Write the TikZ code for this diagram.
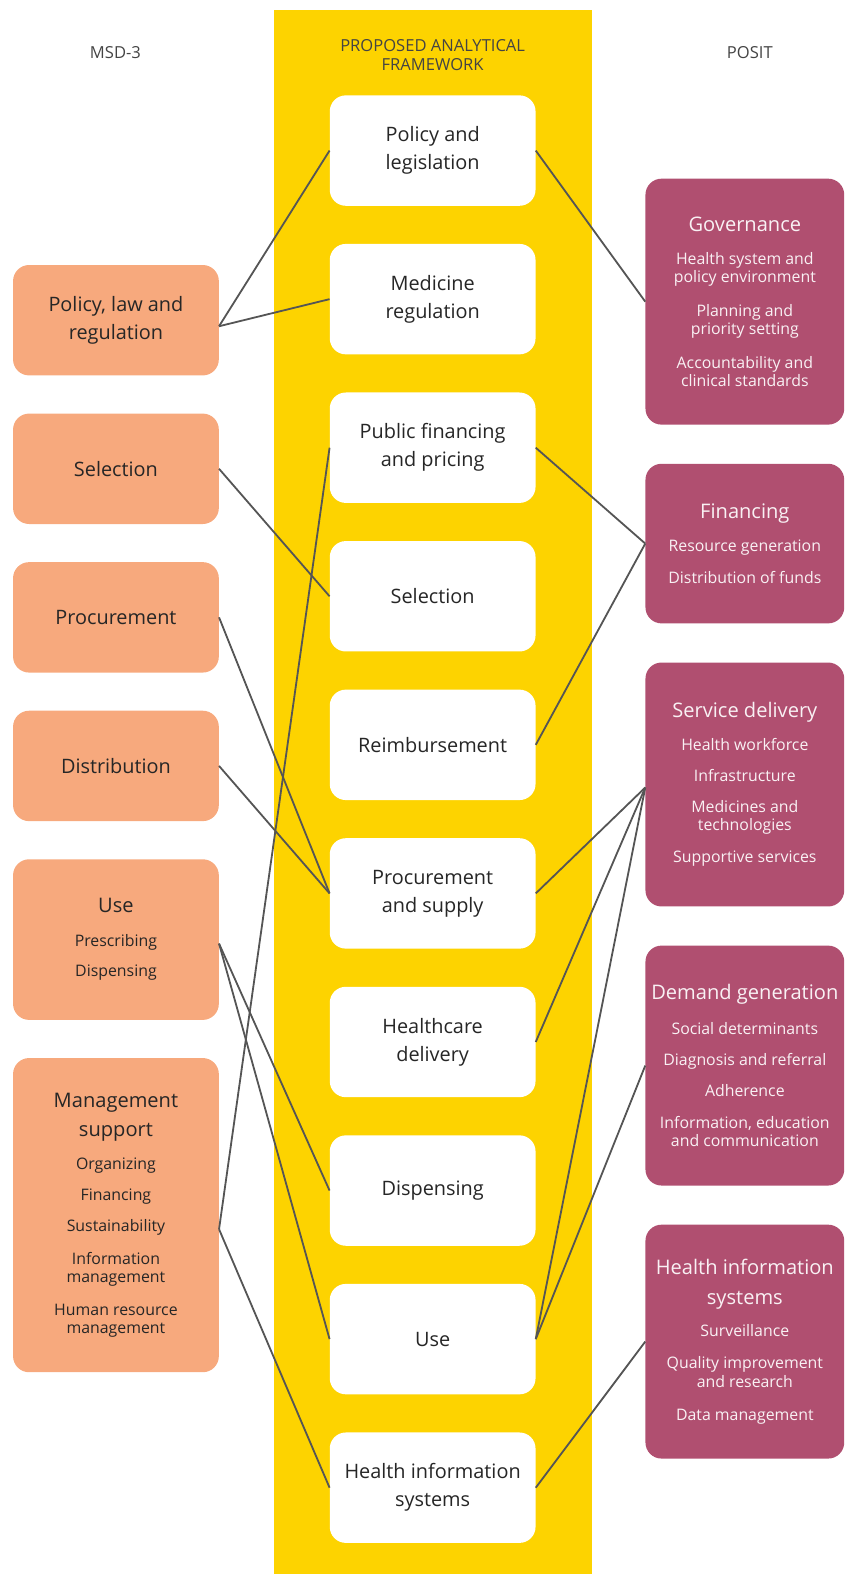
\documentclass[tikz,border=0pt]{standalone}
\usepackage{fontspec}
\setmainfont{Open Sans}
\definecolor{bandyellow}{HTML}{FDD300}
\definecolor{msdorange}{HTML}{F7A97D}
\definecolor{positred}{HTML}{B04F70}
\definecolor{linkgray}{HTML}{555555}
\definecolor{headgray}{HTML}{444444}
\newcommand\ttl[1]{{\fontsize{20}{28}\selectfont #1}}

\begin{document}
\begin{tikzpicture}[x=1pt,y=-1pt,
  frame/.style={fill=white, rounded corners=16pt, minimum width=205pt, minimum height=110pt,
    inner sep=0pt, align=center, font=\fontsize{19.8}{28}\selectfont, text=black!85},
  msd/.style={fill=msdorange, rounded corners=16pt, minimum width=205pt, inner sep=0pt,
    align=center, font=\fontsize{15.8}{18}\selectfont, text=black!85},
  posit/.style={fill=positred, rounded corners=16pt, minimum width=198pt, inner sep=0pt,
    align=center, font=\fontsize{15.8}{18}\selectfont, text=white!92!positred},
  big/.style={font=\fontsize{19.8}{28}\selectfont},
  head/.style={font=\fontsize{16.5}{18.5}\selectfont, text=headgray, align=center},
  link/.style={draw=linkgray, line width=1.8pt}]
\useasboundingbox (0,0) rectangle (842,1568);

% yellow middle column
\fill[bandyellow] (273,10) rectangle (590,1568);

% column headings
\node[head] (hmsd) at (115,52) {MSD-3};
\node[head] (hfw) at (431,55) {PROPOSED ANALYTICAL\\FRAMEWORK};
\node[head] (hposit) at (747,52) {POSIT};

% framework boxes
\foreach \i/\txt in {1/{Policy and\\legislation}, 2/{Medicine\\regulation},
    3/{Public financing\\and pricing}, 4/{Selection}, 5/{Reimbursement},
    6/{Procurement\\and supply}, 7/{Healthcare\\delivery}, 8/{Dispensing},
    9/{Use}, 10/{Health information\\systems}}
  \node[frame] (f\i) at (431,{150+148*(\i-1)}) {\txt};

% MSD-3 boxes
\node[msd, big, minimum height=110pt] (m1) at (115.5,319) {Policy, law and\\regulation};
\node[msd, big, minimum height=110pt] (m2) at (115.5,467) {Selection};
\node[msd, big, minimum height=110pt] (m3) at (115.5,615) {Procurement};
\node[msd, big, minimum height=110pt] (m4) at (115.5,763) {Distribution};
\node[msd, minimum height=160pt] (m5) at (115.5,936)
  {\ttl{Use}\\[16pt]Prescribing\\[12pt]Dispensing};
\node[msd, minimum height=313pt] (m6) at (115.5,1210.5)
  {\ttl{Management}\\[11pt]\ttl{support}\\[15pt]Organizing\\[13pt]Financing\\[13pt]%
   Sustainability\\[14pt]Information\\management\\[15pt]Human resource\\management};

% POSIT boxes
\node[posit, minimum height=245pt] (p1) at (742,300.5)
  {\ttl{Governance}\\[15pt]Health system and\\policy environment\\[16pt]%
   Planning and\\priority setting\\[16pt]Accountability and\\clinical standards};
\node[posit, minimum height=159pt] (p2) at (742,541.5)
  {\ttl{Financing}\\[15pt]Resource generation\\[14pt]Distribution of funds};
\node[posit, minimum height=243pt] (p3) at (742,781.5)
  {\ttl{Service delivery}\\[15pt]Health workforce\\[13pt]Infrastructure\\[13pt]%
   Medicines and\\technologies\\[14pt]Supportive services};
\node[posit, minimum height=239pt] (p4) at (742,1061.5)
  {\ttl{Demand generation}\\[17pt]Social determinants\\[13pt]Diagnosis and referral\\[13pt]%
   Adherence\\[14pt]Information, education\\and communication};
\node[posit, minimum height=233pt] (p5) at (742,1336.5)
  {\ttl{Health information}\\[12pt]\ttl{systems}\\[14pt]Surveillance\\[14pt]%
   Quality improvement\\and research\\[15pt]Data management};

% links from MSD-3
\draw[link] ([yshift=-6pt]m1.east) -- (f1.west);
\draw[link] ([yshift=-6pt]m1.east) -- (f2.west);
\draw[link] (m2.east) -- (f4.west);
\draw[link] (m3.east) -- (f6.west);
\draw[link] (m4.east) -- (f6.west);
\draw[link] ([yshift=-4pt]m5.east) -- (f8.west);
\draw[link] ([yshift=-4pt]m5.east) -- (f9.west);
\draw[link] ([yshift=-14pt]m6.east) -- (f3.west);
\draw[link] ([yshift=-14pt]m6.east) -- (f10.west);

% links to POSIT
\draw[link] (f1.east) -- (p1.west);
\draw[link] (f3.east) -- (p2.west);
\draw[link] (f5.east) -- (p2.west);
\draw[link] (f6.east) -- ([yshift=-3pt]p3.west);
\draw[link] (f7.east) -- ([yshift=-3pt]p3.west);
\draw[link] (f9.east) -- ([yshift=-3pt]p3.west);
\draw[link] (f9.east) -- (p4.west);
\draw[link] (f10.east) -- (p5.west);
\end{tikzpicture}
\end{document}
